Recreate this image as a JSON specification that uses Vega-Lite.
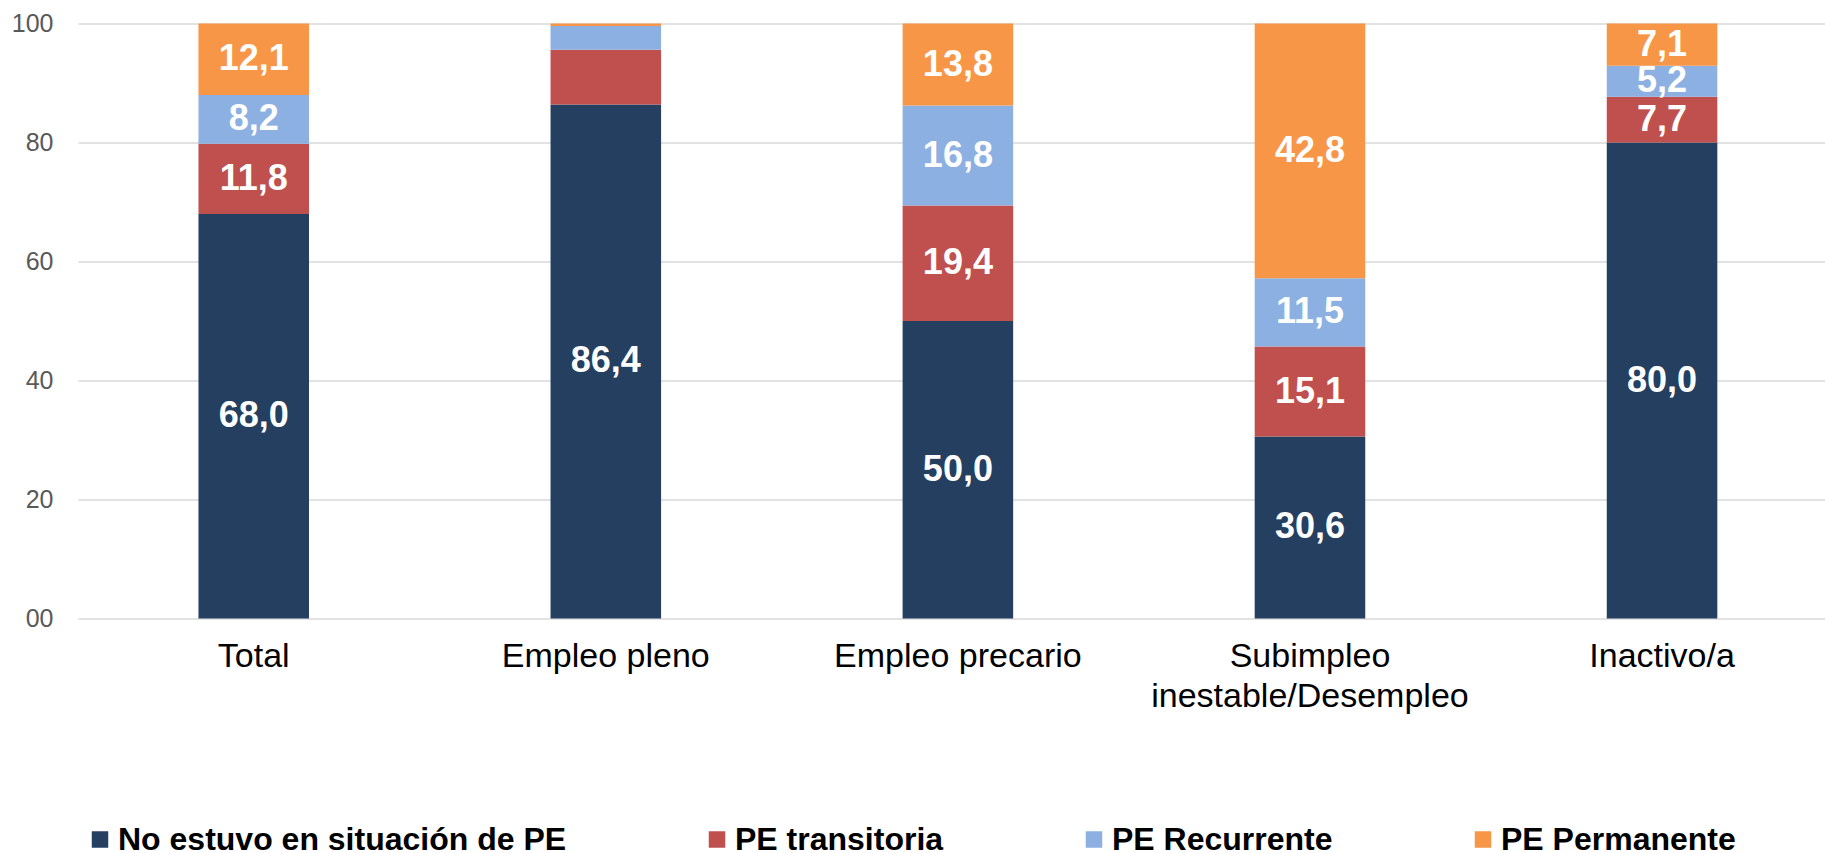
{
  "$schema": "https://vega.github.io/schema/vega-lite/v6.json",
  "width": 1747,
  "height": 595,
  "autosize": {"type": "none"},
  "padding": {"left": 78, "top": 23.5, "right": 0, "bottom": 234.5},
  "background": "white",
  "config": {
    "view": {"stroke": null},
    "font": "Liberation Sans"
  },
  "data": {
    "values": [
      {"categoria": "Total", "serie": "No estuvo en situación de PE", "orden": 1, "valor": 68.0, "etiqueta": "68,0"},
      {"categoria": "Total", "serie": "PE transitoria", "orden": 2, "valor": 11.8, "etiqueta": "11,8"},
      {"categoria": "Total", "serie": "PE Recurrente", "orden": 3, "valor": 8.2, "etiqueta": "8,2"},
      {"categoria": "Total", "serie": "PE Permanente", "orden": 4, "valor": 12.0, "etiqueta": "12,1"},
      {"categoria": "Empleo pleno", "serie": "No estuvo en situación de PE", "orden": 1, "valor": 86.4, "etiqueta": "86,4"},
      {"categoria": "Empleo pleno", "serie": "PE transitoria", "orden": 2, "valor": 9.2, "etiqueta": ""},
      {"categoria": "Empleo pleno", "serie": "PE Recurrente", "orden": 3, "valor": 4.0, "etiqueta": ""},
      {"categoria": "Empleo pleno", "serie": "PE Permanente", "orden": 4, "valor": 0.4, "etiqueta": ""},
      {"categoria": "Empleo precario", "serie": "No estuvo en situación de PE", "orden": 1, "valor": 50.0, "etiqueta": "50,0"},
      {"categoria": "Empleo precario", "serie": "PE transitoria", "orden": 2, "valor": 19.4, "etiqueta": "19,4"},
      {"categoria": "Empleo precario", "serie": "PE Recurrente", "orden": 3, "valor": 16.8, "etiqueta": "16,8"},
      {"categoria": "Empleo precario", "serie": "PE Permanente", "orden": 4, "valor": 13.8, "etiqueta": "13,8"},
      {"categoria": "Subimpleo inestable/Desempleo", "serie": "No estuvo en situación de PE", "orden": 1, "valor": 30.6, "etiqueta": "30,6"},
      {"categoria": "Subimpleo inestable/Desempleo", "serie": "PE transitoria", "orden": 2, "valor": 15.1, "etiqueta": "15,1"},
      {"categoria": "Subimpleo inestable/Desempleo", "serie": "PE Recurrente", "orden": 3, "valor": 11.5, "etiqueta": "11,5"},
      {"categoria": "Subimpleo inestable/Desempleo", "serie": "PE Permanente", "orden": 4, "valor": 42.8, "etiqueta": "42,8"},
      {"categoria": "Inactivo/a", "serie": "No estuvo en situación de PE", "orden": 1, "valor": 80.0, "etiqueta": "80,0"},
      {"categoria": "Inactivo/a", "serie": "PE transitoria", "orden": 2, "valor": 7.7, "etiqueta": "7,7"},
      {"categoria": "Inactivo/a", "serie": "PE Recurrente", "orden": 3, "valor": 5.2, "etiqueta": "5,2"},
      {"categoria": "Inactivo/a", "serie": "PE Permanente", "orden": 4, "valor": 7.1, "etiqueta": "7,1"}
    ]
  },
  "transform": [
    {"stack": "valor", "groupby": ["categoria"], "sort": [{"field": "orden", "order": "ascending"}], "as": ["y0", "y1"]},
    {"calculate": "(datum.y0 + datum.y1) / 2", "as": "ymid"}
  ],
  "encoding": {
    "x": {
      "field": "categoria",
      "type": "nominal",
      "sort": ["Total", "Empleo pleno", "Empleo precario", "Subimpleo inestable/Desempleo", "Inactivo/a"],
      "scale": {"paddingInner": 0.686, "paddingOuter": 0.324, "align": 0.528},
      "axis": {
        "title": null,
        "labelAngle": 0,
        "labelFontSize": 34,
        "labelColor": "#000000",
        "labelPadding": 21,
        "labelLineHeight": 40,
        "labelLimit": 1000,
        "ticks": false,
        "domain": false,
        "labelExpr": "datum.value == 'Subimpleo inestable/Desempleo' ? ['Subimpleo', 'inestable/Desempleo'] : datum.value"
      }
    }
  },
  "layer": [
    {
      "mark": {"type": "bar"},
      "encoding": {
        "y": {
          "field": "y0",
          "type": "quantitative",
          "scale": {"domain": [0, 100], "nice": false},
          "axis": {
            "title": null,
            "values": [0, 20, 40, 60, 80, 100],
            "format": "02d",
            "labelFontSize": 25,
            "labelColor": "#595959",
            "labelPadding": 25,
            "ticks": false,
            "domain": false,
            "grid": true,
            "gridColor": "#D9D9D9",
            "gridWidth": 1.5
          }
        },
        "y2": {"field": "y1"},
        "color": {
          "field": "serie",
          "type": "nominal",
          "sort": ["No estuvo en situación de PE", "PE transitoria", "PE Recurrente", "PE Permanente"],
          "scale": {
            "domain": ["No estuvo en situación de PE", "PE transitoria", "PE Recurrente", "PE Permanente"],
            "range": ["#243F60", "#C0504D", "#8DB0E2", "#F79646"]
          },
          "legend": {
            "title": null,
            "orient": "none",
            "direction": "horizontal",
            "legendX": 6,
            "legendY": 800,
            "padding": 0,
            "symbolType": "square",
            "symbolSize": 272,
            "symbolStrokeWidth": 0,
            "labelFontSize": 32,
            "labelFontWeight": "bold",
            "labelColor": "#000000",
            "labelOffset": 2,
            "labelLimit": 1000,
            "columnPadding": 134
          }
        }
      }
    },
    {
      "transform": [{"filter": "datum.etiqueta != ''"}],
      "mark": {"type": "text", "fontSize": 36, "fontWeight": "bold", "color": "white", "align": "center", "baseline": "middle"},
      "encoding": {
        "y": {"field": "ymid", "type": "quantitative"},
        "text": {"field": "etiqueta", "type": "nominal"}
      }
    }
  ]
}
